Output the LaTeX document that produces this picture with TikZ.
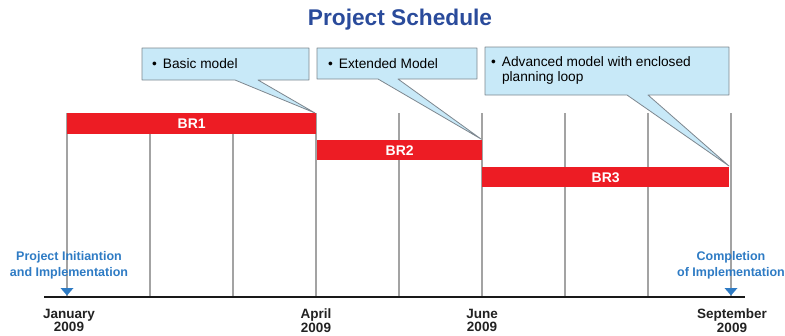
\documentclass[tikz,border=0pt]{standalone}
\usepackage{fontspec}
\setmainfont{Liberation Sans}

\definecolor{titleblue}{HTML}{2A4B9B}
\definecolor{labelblue}{HTML}{2E7BC4}
\definecolor{barred}{HTML}{ED1C24}
\definecolor{notefill}{HTML}{C8E9F8}
\definecolor{noteline}{HTML}{7E878F}
\definecolor{gridgray}{HTML}{A3A3A3}
\definecolor{datetext}{HTML}{222222}

\tikzset{
  month/.style={gridgray, line width=1.5pt},
  axisline/.style={black!90, line width=1.8pt},
  bar/.style={fill=barred, draw=none, inner sep=0pt, anchor=north west,
    text=white, font=\fontsize{14}{14}\bfseries\selectfont},
  note/.style={draw=noteline, fill=notefill, line width=0.8pt, line join=round},
  notetext/.style={anchor=west, inner sep=0pt, align=left,
    font=\fontsize{13.7}{15}\selectfont},
  milestone/.style={anchor=north, inner sep=0pt, align=center, text=labelblue,
    font=\fontsize{12.5}{16}\bfseries\selectfont},
  datelabel/.style={anchor=north, inner sep=0pt, align=center, text=datetext,
    font=\fontsize{13.5}{13.5}\bfseries\selectfont},
  marker/.style={fill=labelblue, draw=none},
}

\begin{document}
\begin{tikzpicture}[x=1pt, y=-1pt]
\useasboundingbox (0,0) rectangle (785,335);

% title
\node[anchor=base, inner sep=0pt, text=titleblue,
      font=\fontsize{22.7}{24}\bfseries\selectfont] (title) at (400,25) {Project Schedule};

% month grid lines
\foreach \i/\x in {0/67,1/150,2/233,3/316,4/399,5/482,6/565,7/648,8/731} {
  \coordinate (top\i) at (\x,113);
  \coordinate (bot\i) at (\x,297);
  \draw[month] (top\i) -- (bot\i);
}

% time axis
\coordinate (axL) at (44,297);
\coordinate (axR) at (745,297);
\draw[axisline] (axL) -- (axR);

% release bars
\node[bar, minimum width=249pt, minimum height=21pt] (br1) at (67,113) {BR1};
\node[bar, minimum width=165pt, minimum height=20pt] (br2) at (317,140) {BR2};
\node[bar, minimum width=247pt, minimum height=20pt] (br3) at (482,167) {BR3};

% callouts
\coordinate (tip1) at (315,113);
\coordinate (tip2) at (481,139);
\coordinate (tip3) at (729,166);
\draw[note] (142,48) -- (309,48) -- (309,80) -- (258,80) -- (tip1)
            -- (235,80) -- (142,80) -- cycle;
\draw[note] (317,48) -- (477,48) -- (477,79) -- (398,79) -- (tip2)
            -- (378,79) -- (317,79) -- cycle;
\draw[note] (485,47) -- (729,47) -- (729,95) -- (648,95) -- (tip3)
            -- (627,95) -- (485,95) -- cycle;

\node[notetext] (n1) at (152,64) {\textbullet\hspace{6pt}Basic model};
\node[notetext] (n2) at (328,63.5) {\textbullet\hspace{6pt}Extended Model};
\node[notetext] (n3) at (491,71) {%
  \begin{tabular}{@{}l@{\hspace{6pt}}l@{}}
  \textbullet & Advanced model with enclosed\\
              & planning loop
  \end{tabular}};

% milestones
\node[milestone] (start) at (69,251) {Project Initiantion\\and Implementation};
\node[milestone] (finish) at (731,251) {Completion\\of Implementation};
\coordinate (mk1) at (67,292);
\coordinate (mk2) at (731,292);
\fill[marker] (mk1) ++(-6.5,-4) -- ++(13,0) -- ++(-6.5,7.5) -- cycle;
\fill[marker] (mk2) ++(-6.5,-4) -- ++(13,0) -- ++(-6.5,7.5) -- cycle;

% dates
\node[datelabel] (d1) at (69,309) {January\\2009};
\node[datelabel] (d2) at (316,309) {April\\2009};
\node[datelabel] (d3) at (482,309) {June\\2009};
\node[datelabel] (d4) at (732,309) {September\\2009};
\end{tikzpicture}
\end{document}
